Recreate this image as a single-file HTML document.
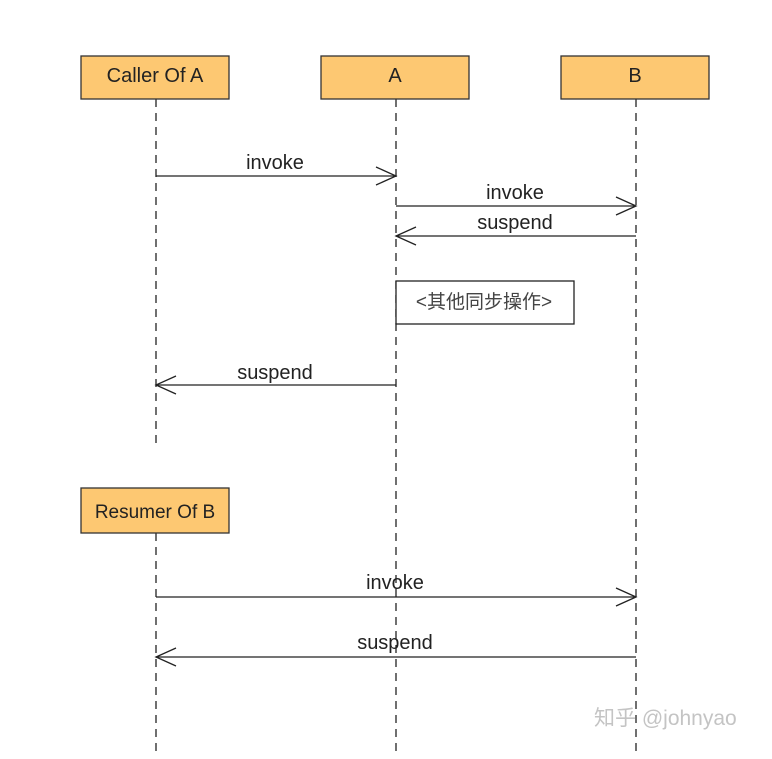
<!DOCTYPE html>
<html><head><meta charset="utf-8"><style>
body{margin:0;background:#fff}
svg text{font-family:"Liberation Sans","Noto Sans CJK SC",sans-serif;font-size:20px;fill:#222}
</style></head><body>
<svg width="772" height="754" xmlns="http://www.w3.org/2000/svg">
<g stroke="#222" stroke-width="1.3" stroke-dasharray="8,6" fill="none">
<line x1="156" y1="99" x2="156" y2="446"/>
<line x1="396" y1="99" x2="396" y2="754"/>
<line x1="636" y1="99" x2="636" y2="754"/>
<line x1="156" y1="533" x2="156" y2="754"/>
</g>
<g fill="#fdc872" stroke="#333" stroke-width="1.3">
<rect x="81" y="56" width="148" height="43"/>
<rect x="321" y="56" width="148" height="43"/>
<rect x="561" y="56" width="148" height="43"/>
<rect x="81" y="488" width="148" height="45"/>
</g>
<text x="155" y="82" text-anchor="middle">Caller Of A</text>
<text x="395" y="82" text-anchor="middle">A</text>
<text x="635" y="82" text-anchor="middle">B</text>
<text x="155" y="518" text-anchor="middle" style="font-size:19px">Resumer Of B</text>
<rect x="396" y="281" width="178" height="43" fill="#fff" stroke="#222" stroke-width="1.3"/>
<text x="484" y="308" text-anchor="middle" style="font-size:19px;fill:#444">&lt;其他同步操作&gt;</text>
<g stroke="#222" stroke-width="1.3" fill="none">
<line x1="156" y1="176" x2="396" y2="176"/><polyline points="376,167 396,176 376,185"/>
<line x1="396" y1="206" x2="636" y2="206"/><polyline points="616,197 636,206 616,215"/>
<line x1="396" y1="236" x2="636" y2="236"/><polyline points="416,227 396,236 416,245"/>
<line x1="156" y1="385" x2="396" y2="385"/><polyline points="176,376 156,385 176,394"/>
<line x1="156" y1="597" x2="636" y2="597"/><polyline points="616,588 636,597 616,606"/>
<line x1="156" y1="657" x2="636" y2="657"/><polyline points="176,648 156,657 176,666"/>
</g>
<text x="275" y="169" text-anchor="middle">invoke</text>
<text x="515" y="199" text-anchor="middle">invoke</text>
<text x="515" y="229" text-anchor="middle">suspend</text>
<text x="275" y="379" text-anchor="middle">suspend</text>
<text x="395" y="589" text-anchor="middle">invoke</text>
<text x="395" y="649" text-anchor="middle">suspend</text>
<text x="594" y="725" style="fill:#c4c4c4;font-size:21px">知乎 @johnyao</text>
</svg>
</body></html>
